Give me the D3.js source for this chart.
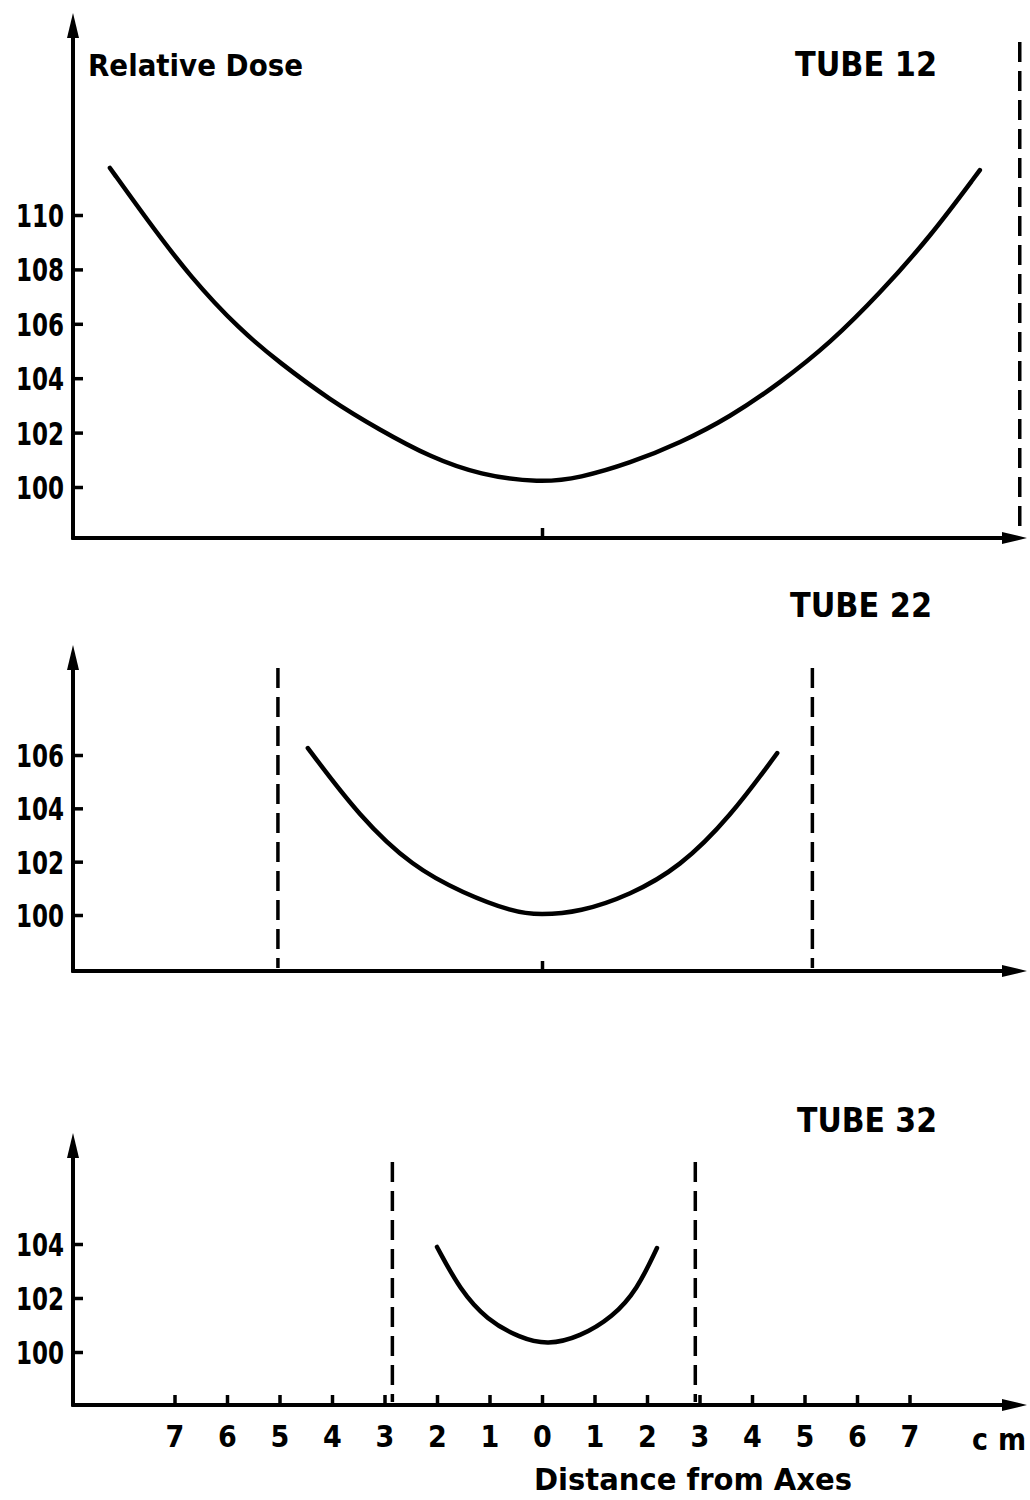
<!DOCTYPE html>
<html lang="en">
<head>
<meta charset="utf-8">
<title>Relative Dose vs Distance from Axes</title>
<script src="https://cdnjs.cloudflare.com/ajax/libs/d3/7.8.5/d3.min.js"></script>
<style>
  body { margin: 0; background: #fff; }
  svg text { font-family: "DejaVu Sans Condensed", "DejaVu Sans", sans-serif; font-weight: bold; fill: #000; font-stretch: condensed; }
</style>
</head>
<body>
<script>
// x ticks (cm, signed; labels show distance)
var xTicks = [-7, -6, -5, -4, -3, -2, -1, 0, 1, 2, 3, 4, 5, 6, 7];

// y ticks per panel
var ticks12 = [100, 102, 104, 106, 108, 110];
var ticks22 = [100, 102, 104, 106];
var ticks32 = [100, 102, 104];

// TUBE 12 curve
var tube12X = [-8.23, -7.52, -6.70, -5.75, -4.99, -4.04, -3.09, -2.13, -1.18, -0.04, 0.72, 1.68, 2.63, 3.58, 4.53, 5.49, 6.44, 7.39, 8.34];
var tube12Y = [111.73, 109.82, 107.72, 105.77, 104.56, 103.20, 102.10, 101.10, 100.44, 100.15, 100.33, 100.88, 101.62, 102.57, 103.82, 105.29, 107.13, 109.19, 111.65];
var tube12Edges = [9.1];

// TUBE 22 curve
var tube22X = [-4.46, -3.47, -2.46, -1.50, -0.55, -0.04, 0.72, 1.68, 2.63, 3.58, 4.48];
var tube22Y = [106.26, 103.67, 101.80, 100.82, 100.11, 100.0, 100.11, 100.75, 101.80, 103.67, 106.07];
var tube22Edges = [-5.03, 5.15];

// TUBE 32 curve
var tube32X = [-2.0, -1.56, -1.05, -0.42, 0.11, 0.72, 1.35, 1.81, 2.19];
var tube32Y = [103.89, 102.30, 101.19, 100.52, 100.26, 100.56, 101.30, 102.30, 103.85];
var tube32Edges = [-2.85, 2.92];

var width = 1030, height = 1500;
var axisX = 73, axisRight = 1027;

var svg = d3.select("body").append("svg")
    .attr("width", width)
    .attr("height", height);

var x = d3.scaleLinear().domain([-7, 7]).range([174.5, 909.5]);

var panels = [
    { name: "TUBE 12", xs: tube12X, ys: tube12Y, ticks: ticks12, edges: tube12Edges,
      yDomain: [100, 110], yRange: [487, 215], top: 13, bottom: 538, dashTop: 42, labelX: 795, labelY: 76, labelW: 142, allTicks: false },
    { name: "TUBE 22", xs: tube22X, ys: tube22Y, ticks: ticks22, edges: tube22Edges,
      yDomain: [100, 106], yRange: [915, 755], top: 645, bottom: 971, dashTop: 668, labelX: 790, labelY: 617, labelW: 142, allTicks: false },
    { name: "TUBE 32", xs: tube32X, ys: tube32Y, ticks: ticks32, edges: tube32Edges,
      yDomain: [100, 104], yRange: [1352, 1244], top: 1133, bottom: 1405, dashTop: 1162, labelX: 797, labelY: 1132, labelW: 140, allTicks: true }
];

panels.forEach(function(p) {
    var y = d3.scaleLinear().domain(p.yDomain).range(p.yRange);
    var g = svg.append("g");

    // y axis with inward ticks
    var yAxis = d3.axisLeft(y).tickValues(p.ticks).tickSize(-10).tickPadding(9)
        .tickFormat(d3.format("d"));
    var ya = g.append("g").attr("transform", "translate(" + axisX + ",0)").call(yAxis);
    ya.select(".domain").remove();
    ya.selectAll(".tick line").attr("stroke", "#000").attr("stroke-width", 3.5);
    ya.selectAll(".tick text")
        .attr("font-size", 32)
        .attr("textLength", 48)
        .attr("lengthAdjust", "spacingAndGlyphs")
        .attr("dy", "0.36em");

    // x axis ticks (all on bottom panel, only centre on the others)
    var xAxis = d3.axisBottom(x).tickValues(p.allTicks ? xTicks : [0]).tickSize(-10).tickPadding(21)
        .tickFormat(function(d) { return p.allTicks ? Math.abs(d) : ""; });
    var xa = g.append("g").attr("transform", "translate(0," + p.bottom + ")").call(xAxis);
    xa.select(".domain").remove();
    xa.selectAll(".tick line").attr("stroke", "#000").attr("stroke-width", 3.5);
    xa.selectAll(".tick text").attr("font-size", 30);

    // axis lines
    g.append("line").attr("x1", axisX).attr("x2", axisX).attr("y1", p.bottom + 1.5).attr("y2", p.top + 20)
        .attr("stroke", "#000").attr("stroke-width", 4);
    g.append("line").attr("x1", axisX - 1.5).attr("x2", axisRight - 20).attr("y1", p.bottom).attr("y2", p.bottom)
        .attr("stroke", "#000").attr("stroke-width", 4);

    // arrow heads
    g.append("path")
        .attr("d", "M" + axisX + "," + p.top + "L" + (axisX - 6) + "," + (p.top + 25) + "L" + (axisX + 6) + "," + (p.top + 25) + "Z")
        .attr("fill", "#000");
    g.append("path")
        .attr("d", "M" + axisRight + "," + p.bottom + "L" + (axisRight - 25) + "," + (p.bottom - 6) + "L" + (axisRight - 25) + "," + (p.bottom + 6) + "Z")
        .attr("fill", "#000");

    // tube edges (dashed)
    g.selectAll(".edge").data(p.edges).enter().append("line")
        .attr("class", "edge")
        .attr("x1", function(d) { return x(d); })
        .attr("x2", function(d) { return x(d); })
        .attr("y1", p.dashTop)
        .attr("y2", p.bottom - 3)
        .attr("stroke", "#000")
        .attr("stroke-width", 3.5)
        .attr("stroke-dasharray", "20,9");

    // dose curve
    var pts = p.xs.map(function(v, i) { return [v, p.ys[i]]; });
    var line = d3.line()
        .x(function(d) { return x(d[0]); })
        .y(function(d) { return y(d[1]); })
        .curve(d3.curveBasis);
    g.append("path").datum(pts)
        .attr("d", line)
        .attr("fill", "none")
        .attr("stroke", "#000")
        .attr("stroke-width", 4.5)
        .attr("stroke-linecap", "round");

    // tube label
    g.append("text")
        .attr("x", p.labelX)
        .attr("y", p.labelY)
        .attr("font-size", 33)
        .attr("textLength", p.labelW)
        .attr("lengthAdjust", "spacingAndGlyphs")
        .text(p.name);
});

svg.append("text")
    .attr("x", 88).attr("y", 76)
    .attr("font-size", 30)
    .attr("textLength", 215)
    .attr("lengthAdjust", "spacingAndGlyphs")
    .text("Relative Dose");

svg.append("text")
    .attr("x", 972).attr("y", 1450)
    .attr("font-size", 30)
    .attr("textLength", 54)
    .attr("lengthAdjust", "spacing")
    .text("cm");

svg.append("text")
    .attr("x", 693).attr("y", 1490)
    .attr("font-size", 31)
    .attr("text-anchor", "middle")
    .attr("textLength", 318)
    .attr("lengthAdjust", "spacingAndGlyphs")
    .text("Distance from Axes");
</script>
</body>
</html>
